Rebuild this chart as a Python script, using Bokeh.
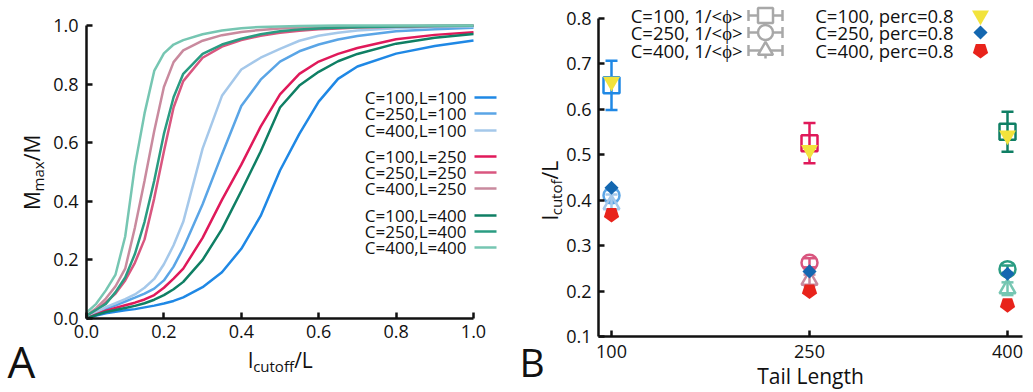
import math
from bokeh.plotting import figure
from bokeh.layouts import row
from bokeh.models import Label, FixedTicker, Range1d, PrintfTickFormatter
from bokeh.embed import file_html
from bokeh.resources import INLINE

FONT = "Open Sans"
INK = "#111111"

# ---------------- Panel A data: M_max/M vs l_cutoff/L ----------------
cutoff = [0, 0.025, 0.05, 0.075, 0.1, 0.125, 0.15, 0.175, 0.2, 0.225, 0.25,
          0.3, 0.35, 0.4, 0.45, 0.5, 0.55, 0.6, 0.65, 0.7, 0.8, 0.9, 1.0]
m_c100_l100 = [0.0, 0.010, 0.018, 0.023, 0.028, 0.032, 0.038, 0.044, 0.051, 0.060, 0.072,
               0.107, 0.158, 0.238, 0.350, 0.505, 0.630, 0.740, 0.818, 0.860, 0.904, 0.930, 0.949]
m_c250_l100 = [0.003, 0.018, 0.033, 0.045, 0.058, 0.071, 0.085, 0.102, 0.130, 0.177, 0.240,
               0.390, 0.560, 0.725, 0.815, 0.877, 0.912, 0.935, 0.952, 0.964, 0.980, 0.987, 0.992]
m_c400_l100 = [0.005, 0.020, 0.039, 0.052, 0.066, 0.082, 0.105, 0.135, 0.185, 0.250, 0.330,
               0.580, 0.760, 0.850, 0.890, 0.920, 0.948, 0.965, 0.975, 0.983, 0.991, 0.995, 0.997]
m_c100_l250 = [0.0, 0.014, 0.027, 0.036, 0.045, 0.054, 0.065, 0.080, 0.105, 0.136, 0.170,
               0.275, 0.405, 0.525, 0.655, 0.765, 0.835, 0.877, 0.903, 0.923, 0.953, 0.968, 0.977]
m_c250_l250 = [0.010, 0.030, 0.055, 0.085, 0.130, 0.190, 0.270, 0.410, 0.570, 0.720, 0.810,
               0.890, 0.928, 0.950, 0.965, 0.975, 0.982, 0.987, 0.990, 0.993, 0.996, 0.998, 0.999]
m_c400_l250 = [0.010, 0.035, 0.068, 0.110, 0.170, 0.310, 0.470, 0.640, 0.790, 0.875, 0.915,
               0.948, 0.967, 0.978, 0.985, 0.990, 0.993, 0.995, 0.996, 0.997, 0.998, 0.999, 1.0]
m_c100_l400 = [0.0, 0.012, 0.022, 0.029, 0.036, 0.043, 0.052, 0.064, 0.080, 0.100, 0.125,
               0.200, 0.305, 0.435, 0.570, 0.720, 0.795, 0.842, 0.878, 0.903, 0.938, 0.958, 0.971]
m_c250_l400 = [0.010, 0.030, 0.050, 0.090, 0.140, 0.220, 0.330, 0.470, 0.630, 0.755, 0.835,
               0.903, 0.935, 0.955, 0.970, 0.980, 0.986, 0.990, 0.992, 0.994, 0.997, 0.998, 0.999]
m_c400_l400 = [0.020, 0.050, 0.096, 0.150, 0.280, 0.520, 0.700, 0.845, 0.905, 0.935, 0.950,
               0.970, 0.983, 0.991, 0.995, 0.997, 0.998, 0.999, 1.0, 1.0, 1.0, 1.0, 1.0]

series_a = [m_c100_l100, m_c250_l100, m_c400_l100,
            m_c100_l250, m_c250_l250, m_c400_l250,
            m_c100_l400, m_c250_l400, m_c400_l400]
labels_a = ["C=100,L=100", "C=250,L=100", "C=400,L=100",
            "C=100,L=250", "C=250,L=250", "C=400,L=250",
            "C=100,L=400", "C=250,L=400", "C=400,L=400"]
colors_a = ["#1f88e5", "#5aa5e6", "#a5c8ea",
            "#e0195a", "#d9567f", "#c98a9e",
            "#0f7f64", "#2a9c82", "#76c6b2"]

# ---------------- Panel B data: l_cutoff/L vs tail length ----------------
tail_length = [100, 250, 400]
phi_c100 = [0.652, 0.525, 0.550]
phi_c100_err = [0.054, 0.044, 0.044]
phi_c250 = [0.410, 0.262, 0.248]
phi_c250_err = [0.012, 0.010, 0.008]
phi_c400 = [0.390, 0.224, 0.205]
phi_c400_err = [0.022, 0.012, 0.014]
perc_c100 = [0.660, 0.510, 0.542]
perc_c250 = [0.427, 0.243, 0.238]
perc_c400 = [0.368, 0.200, 0.170]
colors_c100 = ["#1f88e5", "#e0195a", "#0f7f64"]
colors_c250 = ["#5aa5e6", "#d9567f", "#2a9c82"]
colors_c400 = ["#a5c8ea", "#c98a9e", "#76c6b2"]
phi_labels = ["C=100, 1/<ϕ>", "C=250, 1/<ϕ>", "C=400, 1/<ϕ>"]
perc_labels = ["C=100, perc=0.8", "C=250, perc=0.8", "C=400, perc=0.8"]
YELLOW, BLUE, RED, GREY = "#f2e33c", "#1467b0", "#e8231b", "#a8a8a8"

# ---------------- layout constants (page pixels) ----------------
H = 392
A_W = 520
A_X0, A_Y0 = 86.0, 318.0             # page position of (0, 0)
A_PPX, A_PPY = 387.0, 293.0          # pixels per unit

B_OFF = A_W
B_W = 513
B_X100, B_Y01 = 611.0, 336.0         # page position of (100, 0.1)
B_PPX, B_PPY = 1.32, 455.0
B_AXIS_LEFT, B_AXIS_RIGHT = 598.0, 1022.0

MID = 0.37   # baseline -> text-box middle, in em


def ax(px):
    return (px - A_X0) / A_PPX


def ay(py):
    return (A_Y0 - py) / A_PPY


def bx(px):
    return 100 + (px - B_X100) / B_PPX


def by(py):
    return 0.1 + (B_Y01 - py) / B_PPY


def style_axes(p, tick_font="18px"):
    p.outline_line_color = None
    p.xgrid.visible = False
    p.ygrid.visible = False
    p.background_fill_color = "white"
    p.border_fill_color = "white"
    for a in (p.xaxis[0], p.yaxis[0]):
        a.axis_line_width = 2.5
        a.axis_line_color = INK
        a.major_tick_line_width = 2.5
        a.major_tick_line_color = INK
        a.major_tick_in = 6
        a.major_tick_out = 0
        a.minor_tick_line_color = None
        a.major_label_text_font = FONT
        a.major_label_text_font_size = tick_font
        a.major_label_text_color = INK


def label(p, x, y, text, size, align="left", angle=0.0):
    p.add_layout(Label(x=x, y=y, text=text, angle=angle, text_font=FONT,
                       text_font_size=f"{size}px", text_color=INK,
                       text_align=align, text_baseline="middle"))


# Open Sans approx. advance widths (em)
CW = {"M": 0.891, "m": 0.930, "a": 0.556, "x": 0.518, "/": 0.367, "l": 0.240,
      "c": 0.477, "u": 0.613, "t": 0.355, "o": 0.604, "f": 0.343, "L": 0.525}


def tw(s, size):
    return sum(CW.get(ch, 0.56) for ch in s) * size


def add_sub_label(p, parts, cx, base, conv_x, conv_y, vertical, main=21, sub=15, drop=4):
    """parts: list of (text, is_sub). cx: centre along the text, base: baseline (page px)."""
    total = sum(tw(t, sub if s else main) for t, s in parts)
    pos = -total / 2.0
    for t, s in parts:
        size = sub if s else main
        b = base + (drop if s else 0) - MID * size
        if vertical:
            px, py, ang = b, cx - pos, math.pi / 2
        else:
            px, py, ang = cx + pos, b, 0.0
        label(p, conv_x(px), conv_y(py), t, size, angle=ang)
        pos += tw(t, size)


def bare_figure(w, xr, yr):
    return figure(width=w, height=H, output_backend="svg", toolbar_location=None,
                  x_range=Range1d(*xr), y_range=Range1d(*yr),
                  min_border_left=0, min_border_right=0,
                  min_border_top=0, min_border_bottom=0)


# ================= Panel A =================
p1 = bare_figure(A_W, (ax(0), ax(A_W)), (ay(H), ay(0)))
style_axes(p1)
p1.xaxis.fixed_location = 0
p1.yaxis.fixed_location = 0
p1.xaxis.bounds = (0, 1)
p1.yaxis.bounds = (0, 1)
p1.xaxis.ticker = FixedTicker(ticks=[0, 0.2, 0.4, 0.6, 0.8, 1.0])
p1.yaxis.ticker = FixedTicker(ticks=[0, 0.2, 0.4, 0.6, 0.8, 1.0])
p1.xaxis.formatter = PrintfTickFormatter(format="%.1f")
p1.yaxis.formatter = PrintfTickFormatter(format="%.1f")
p1.xaxis.major_label_standoff = 6
p1.yaxis.major_label_standoff = 8

for ys, col in zip(series_a, colors_a):
    p1.line(cutoff, ys, line_color=col, line_width=2.5)

legend_rows_a = [97, 113, 130, 156, 172, 188, 215, 231, 247]
for lab, col, ry in zip(labels_a, colors_a, legend_rows_a):
    p1.segment(x0=ax(474), x1=ax(496), y0=ay(ry), y1=ay(ry), line_color=col, line_width=2.5)
    label(p1, ax(466), ay(ry), lab, 17, align="right")

add_sub_label(p1, [("M", False), ("max", True), ("/M", False)], 172, 39, ax, ay, True)
add_sub_label(p1, [("l", False), ("cutoff", True), ("/L", False)], 280, 367, ax, ay, False)
label(p1, ax(7), ay(360), "A", 44)

# ================= Panel B =================
p2 = bare_figure(B_W, (bx(B_OFF), bx(B_OFF + B_W)), (by(H), by(0)))
style_axes(p2)
p2.xaxis.fixed_location = 0.1
p2.yaxis.fixed_location = bx(B_AXIS_LEFT)
p2.xaxis.bounds = (bx(B_AXIS_LEFT), bx(B_AXIS_RIGHT))
p2.yaxis.bounds = (0.1, 0.8)
p2.xaxis.ticker = FixedTicker(ticks=tail_length)
p2.yaxis.ticker = FixedTicker(ticks=[0.1, 0.2, 0.3, 0.4, 0.5, 0.6, 0.7, 0.8])
p2.yaxis.formatter = PrintfTickFormatter(format="%.1f")
p2.xaxis.major_label_standoff = 8
p2.yaxis.major_label_standoff = 7

phi_sets = [(phi_c100, phi_c100_err, colors_c100, "square"),
            (phi_c250, phi_c250_err, colors_c250, "circle"),
            (phi_c400, phi_c400_err, colors_c400, "triangle")]
for vals, errs, cols, mk in phi_sets:
    lo = [v - e for v, e in zip(vals, errs)]
    hi = [v + e for v, e in zip(vals, errs)]
    p2.segment(x0=tail_length, x1=tail_length, y0=lo, y1=hi, line_color=cols, line_width=2.5)
    p2.scatter(tail_length, lo, marker="dash", size=12, line_color=cols, line_width=2.5)
    p2.scatter(tail_length, hi, marker="dash", size=12, line_color=cols, line_width=2.5)
    p2.scatter(tail_length, vals, marker=mk, size=16, fill_alpha=0,
               line_color=cols, line_width=2.5)

p2.scatter(tail_length, perc_c100, marker="inverted_triangle", size=17,
           fill_color=YELLOW, line_color=None)
p2.scatter(tail_length, perc_c250, marker="square", angle=math.pi / 4, size=10,
           fill_color=BLUE, line_color=None)
p2.ngon(x=tail_length, y=perc_c400, radius=8, radius_units="screen", n=5,
        angle=math.pi, fill_color=RED, line_color=None)

# legend of panel B
legend_rows_b = [15, 32, 50]
mk_phi = ["square", "circle", "triangle"]
for lab, mk, ry in zip(phi_labels, mk_phi, legend_rows_b):
    cx, cy = bx(765), by(ry)
    p2.segment(x0=bx(748), x1=bx(782), y0=cy, y1=cy, line_color=GREY, line_width=2.5)
    p2.scatter([bx(748), bx(782)], [cy, cy], marker="dash", angle=math.pi / 2, size=11,
               line_color=GREY, line_width=2.5)
    p2.segment(x0=cx, x1=cx, y0=by(ry + 8), y1=by(ry - 8), line_color=GREY, line_width=2.5)
    p2.scatter([cx], [cy], marker=mk, size=15, fill_color="white",
               line_color=GREY, line_width=2.5)
    label(p2, bx(742), cy, lab, 18.5, align="right")

p2.scatter([bx(980)], [by(legend_rows_b[0])], marker="inverted_triangle", size=17,
           fill_color=YELLOW, line_color=None)
p2.scatter([bx(980)], [by(legend_rows_b[1])], marker="square", angle=math.pi / 4, size=10,
           fill_color=BLUE, line_color=None)
p2.ngon(x=[bx(980)], y=[by(legend_rows_b[2])], radius=8, radius_units="screen", n=5,
        angle=math.pi, fill_color=RED, line_color=None)
for lab, ry in zip(perc_labels, legend_rows_b):
    label(p2, bx(953), by(ry), lab, 18.5, align="right")

add_sub_label(p2, [("l", False), ("cutof", True), ("/L", False)], 190, 557, bx, by, True)
label(p2, bx(810), by(375), "Tail Length", 21, align="center")
label(p2, bx(519), by(361), "B", 39)

layout = row(p1, p2)
open("out.html", "w").write(file_html(layout, INLINE))
